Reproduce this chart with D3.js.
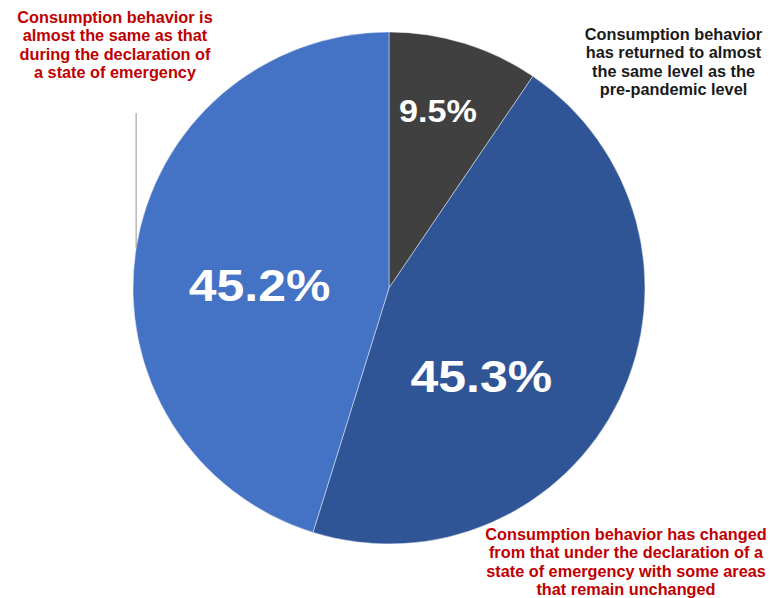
<!DOCTYPE html>
<html>
<head>
<meta charset="utf-8">
<script src="https://cdn.jsdelivr.net/npm/d3@7"></script>
<style>
  html, body { margin: 0; padding: 0; background: #fff; }
  svg { display: block; }
  text { font-family: "Liberation Sans", Arial, sans-serif; font-weight: bold; }
</style>
</head>
<body>
<svg id="chart" width="771" height="598"></svg>
<script>
// Survey answer shares (%), clockwise from 12 o'clock
const categories = [
  "Consumption behavior has returned to almost the same level as the pre-pandemic level",
  "Consumption behavior has changed from that under the declaration of a state of emergency with some areas that remain unchanged",
  "Consumption behavior is almost the same as that during the declaration of a state of emergency"
];
const values = [9.5, 45.3, 45.2];
const valueLabels = ["9.5%", "45.3%", "45.2%"];
const sliceColors = ["#404040", "#2F5597", "#4472C4"];

// Category captions, broken into lines as they are set
const captionLines = [
  ["Consumption behavior", "has returned to almost", "the same level as the", "pre-pandemic level"],
  ["Consumption behavior has changed", "from that under the declaration of a", "state of emergency with some areas", "that remain unchanged"],
  ["Consumption behavior is", "almost the same as that", "during the declaration of", "a state of emergency"]
];
const captionColors = ["#1a1a1a", "#C00000", "#C00000"];

// Layout
const cx = 389, cy = 288, radius = 256;
// value label anchor (centre x, baseline y) relative to the pie centre;
// the percent figures are set slightly wide (sx)
const valuePos = [
  { dx: 49, dy: -166, size: 30.5, sx: 1.12 },
  { dx: 92.3, dy: 103.7, size: 45, sx: 1.11 },
  { dx: -129.5, dy: 12.7, size: 45, sx: 1.11 }
];
const captionPos = [
  { x: 673.5, y: 40 },
  { x: 626, y: 540 },
  { x: 115, y: 23 }
];
const captionSize = 16.3, captionLead = 18.4;

const svg = d3.select("#chart");
const g = svg.append("g").attr("transform", `translate(${cx},${cy})`);

const pie = d3.pie().sort(null).value(d => d).startAngle(0).endAngle(2 * Math.PI);
const arcs = pie(values);
const arc = d3.arc().innerRadius(0).outerRadius(radius);

g.selectAll("path.slice")
  .data(arcs)
  .join("path")
  .attr("class", "slice")
  .attr("d", arc)
  .attr("fill", (d, i) => sliceColors[i])
  .attr("stroke", "rgba(255,255,255,0.55)")
  .attr("stroke-width", 0.8);

// Percent labels inside the slices
g.selectAll("text.val")
  .data(arcs)
  .join("text")
  .attr("class", "val")
  .attr("transform", (d, i) => `translate(${valuePos[i].dx},${valuePos[i].dy}) scale(${valuePos[i].sx},1)`)
  .attr("text-anchor", "middle")
  .attr("fill", "#fff")
  .attr("font-size", (d, i) => valuePos[i].size)
  .text((d, i) => valueLabels[i]);

// Leader line from the left caption down to the pie edge
const leaderTop = 113, leaderBottom = 248;
const leaderX = cx - Math.sqrt(radius * radius - (cy - leaderBottom) ** 2);
svg.append("line")
  .attr("x1", leaderX).attr("x2", leaderX)
  .attr("y1", leaderTop).attr("y2", leaderBottom)
  .attr("stroke", "#a6a6a6")
  .attr("stroke-width", 1.2);

// Category captions
captionLines.forEach((lines, i) => {
  const t = svg.append("text")
    .attr("text-anchor", "middle")
    .attr("fill", captionColors[i])
    .attr("font-size", captionSize);
  lines.forEach((ln, k) => {
    t.append("tspan")
      .attr("x", captionPos[i].x)
      .attr("y", captionPos[i].y + k * captionLead)
      .text(ln);
  });
});
</script>
</body>
</html>
